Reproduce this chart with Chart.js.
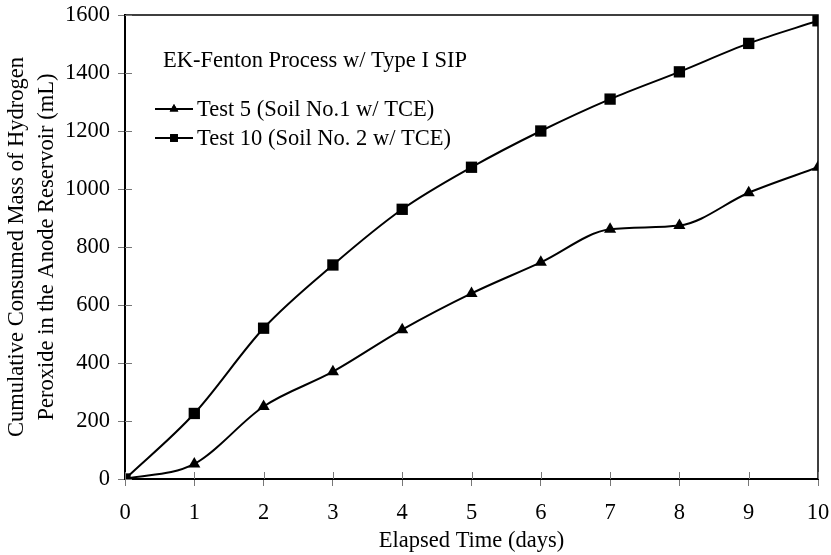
<!DOCTYPE html>
<html>
<head>
<meta charset="utf-8">
<script src="https://cdn.jsdelivr.net/npm/chart.js"></script>
<style>
  html, body { margin: 0; padding: 0; background: #ffffff; }
  #wrap { width: 831px; height: 555px; }
</style>
</head>
<body>
<div id="wrap"><canvas id="chart" width="831" height="555"></canvas></div>
<script>
// data
const days = [0, 1, 2, 3, 4, 5, 6, 7, 8, 9, 10];
const test5 = [0, 52, 250, 370, 515, 640, 747, 861, 874, 987, 1075];
const test10 = [0, 226, 520, 738, 930, 1075, 1200, 1310, 1404, 1502, 1580];
const yTicks = [0, 200, 400, 600, 800, 1000, 1200, 1400, 1600];

const legendTitle = 'EK-Fenton Process w/ Type I SIP';
const seriesNames = ['Test 5 (Soil No.1 w/ TCE)', 'Test 10 (Soil No. 2 w/ TCE)'];

const serif = "'Liberation Serif', 'DejaVu Serif', serif";
const fs = 22.5;

// frame, inner ticks and in-plot legend
const framePlugin = {
  id: 'frame',
  afterDraw(chart) {
    const { ctx, chartArea: a, scales } = chart;
    ctx.save();
    // top + right border
    ctx.strokeStyle = '#000';
    ctx.lineWidth = 1.5;
    ctx.beginPath();
    ctx.moveTo(a.left, a.top);
    ctx.lineTo(a.right, a.top);
    ctx.lineTo(a.right, a.bottom);
    ctx.stroke();

    // inner tick marks
    ctx.strokeStyle = '#777';
    ctx.lineWidth = 1;
    ctx.beginPath();
    scales.x.ticks.forEach(t => {
      const px = Math.round(scales.x.getPixelForValue(t.value)) + 0.5;
      ctx.moveTo(px, a.bottom);
      ctx.lineTo(px, a.bottom - 7);
    });
    scales.y.ticks.forEach(t => {
      const py = Math.round(scales.y.getPixelForValue(t.value)) + 0.5;
      ctx.moveTo(a.left, py);
      ctx.lineTo(a.left + 7, py);
    });
    ctx.stroke();

    // legend
    ctx.fillStyle = '#000';
    ctx.font = fs + 'px ' + serif;
    ctx.textBaseline = 'middle';
    ctx.textAlign = 'left';
    ctx.fillText(legendTitle, 163, 61);

    const rows = [109, 138];
    chart.data.datasets.forEach((ds, i) => {
      const y = rows[i];
      ctx.strokeStyle = '#000';
      ctx.lineWidth = 2;
      ctx.beginPath();
      ctx.moveTo(155, y);
      ctx.lineTo(193, y);
      ctx.stroke();
      Chart.helpers.drawPoint(ctx, {
        pointStyle: ds.pointStyle,
        radius: i === 0 ? 5 : 5.5,
        borderWidth: 0
      }, 174, y);
      ctx.fill();
      ctx.fillText(seriesNames[i], 197, y + 1);
    });
    ctx.restore();
  }
};

new Chart(document.getElementById('chart'), {
  type: 'line',
  data: {
    labels: days,
    datasets: [
      {
        label: seriesNames[0],
        data: days.map((d, i) => ({ x: d, y: test5[i] })),
        borderColor: '#000',
        backgroundColor: '#000',
        borderWidth: 2,
        pointStyle: 'triangle',
        pointRadius: 7,
        pointBorderWidth: 0,
        cubicInterpolationMode: 'monotone'
      },
      {
        label: seriesNames[1],
        data: days.map((d, i) => ({ x: d, y: test10[i] })),
        borderColor: '#000',
        backgroundColor: '#000',
        borderWidth: 2,
        pointStyle: 'rect',
        pointRadius: 8,
        pointBorderWidth: 0,
        cubicInterpolationMode: 'monotone'
      }
    ]
  },
  options: {
    responsive: false,
    animation: false,
    events: [],
    layout: { padding: { left: 0, right: 13, top: 15, bottom: 0 } },
    plugins: {
      legend: { display: false },
      tooltip: { enabled: false }
    },
    scales: {
      x: {
        type: 'linear',
        min: 0,
        max: 10,
        afterFit(s) { s.height = 76; s.paddingLeft = 0; s.paddingRight = 0; },
        ticks: {
          stepSize: 1,
          color: '#000',
          padding: 14,
          font: { family: serif, size: fs }
        },
        grid: {
          drawOnChartArea: false,
          drawTicks: true,
          tickLength: 7,
          color: '#777'
        },
        border: { color: '#000', width: 2 },
        title: {
          display: true,
          text: 'Elapsed Time (days)',
          color: '#000',
          font: { family: serif, size: fs },
          padding: { top: 0, bottom: 0 }
        }
      },
      y: {
        min: 0,
        max: 1600,
        afterFit(s) { s.width = 125; s.paddingTop = 0; s.paddingBottom = 0; },
        afterBuildTicks(s) { s.ticks = yTicks.map(v => ({ value: v })); },
        ticks: {
          color: '#000',
          padding: 8,
          font: { family: serif, size: fs },
          callback: v => String(v)
        },
        grid: {
          drawOnChartArea: false,
          drawTicks: true,
          tickLength: 7,
          color: '#777'
        },
        border: { color: '#000', width: 2 },
        title: {
          display: true,
          text: ['Cumulative Consumed Mass of Hydrogen', 'Peroxide in the Anode Reservoir (mL)'],
          color: '#000',
          font: { family: serif, size: fs, lineHeight: 1.33 },
          padding: { top: 2, bottom: 4 }
        }
      }
    }
  },
  plugins: [framePlugin]
});
</script>
</body>
</html>
